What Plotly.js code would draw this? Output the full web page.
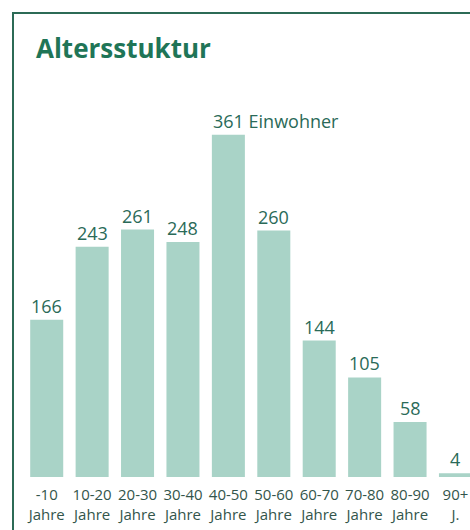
<!DOCTYPE html>
<html>
<head>
<meta charset="utf-8">
<script src="https://cdn.plot.ly/plotly-3.0.1.min.js"></script>
<style>
  html, body { margin: 0; padding: 0; background: #ffffff; }
  #wrap { position: relative; width: 470px; height: 530px; overflow: hidden; }
  #frame { position: absolute; left: 12px; top: 12px; width: 480px; height: 540px;
           border-left: 2px solid #2c6b56; border-top: 2px solid #2c6b56; box-sizing: border-box; pointer-events: none; }
  #chart { position: absolute; left: 0; top: 0; width: 470px; height: 530px; }
</style>
</head>
<body>
<div id="wrap">
  <div id="chart"></div>
  <div id="frame"></div>
</div>
<script>
const categories = ["-10", "10-20", "20-30", "30-40", "40-50", "50-60", "60-70", "70-80", "80-90", "90+"];
const subLabels = ["Jahre", "Jahre", "Jahre", "Jahre", "Jahre", "Jahre", "Jahre", "Jahre", "Jahre", "J."];
const values = [166, 243, 261, 248, 361, 260, 144, 105, 58, 4];
const unitLabel = " Einwohner";
const unitIndex = 4;

const labelColor = "#2a6a58";
const tickColor = "#33554b";
const barColor = "#a9d3c7";

const tickLabels = categories.map((c, i) => c + "<br>" + subLabels[i]);

const bars = {
  type: "bar",
  x: categories,
  y: values,
  marker: { color: barColor, line: { width: 0 } },
  hoverinfo: "none"
};

const annotations = values.map((v, i) => {
  const isUnit = i === unitIndex;
  return {
    x: i,              // category index on the category axis
    y: v,
    xref: "x",
    yref: "y",
    text: isUnit ? String(v) + unitLabel : String(v),
    showarrow: false,
    xanchor: isUnit ? "left" : "center",
    xshift: isUnit ? -17.5 : 0,
    yanchor: "bottom",
    yshift: 0,
    font: { family: "Open Sans", size: 18, color: labelColor }
  };
});

const layout = {
  width: 470,
  height: 530,
  margin: { l: 24, r: 0, t: 100, b: 53 },
  paper_bgcolor: "rgba(0,0,0,0)",
  plot_bgcolor: "rgba(0,0,0,0)",
  bargap: 0.273,
  showlegend: false,
  title: {
    text: "<b>Altersstuktur</b>",
    font: { family: "Open Sans", size: 26, color: "#1f7557" },
    xref: "container", x: 36 / 470, xanchor: "left",
    yref: "container", y: 1 - 49 / 530, yanchor: "middle"
  },
  xaxis: {
    type: "category",
    range: [-0.5, 9.32],
    tickmode: "array",
    tickvals: categories,
    ticktext: tickLabels,
    showline: false,
    showgrid: false,
    zeroline: false,
    ticks: "",
    ticklabelstandoff: 7,
    tickfont: { family: "Open Sans", size: 15, color: tickColor },
    fixedrange: true
  },
  yaxis: {
    range: [0, 397.7],
    visible: false,
    showgrid: false,
    zeroline: false,
    fixedrange: true
  },
  annotations: annotations
};

Plotly.newPlot("chart", [bars], layout, { displayModeBar: false, staticPlot: true });
</script>
</body>
</html>
